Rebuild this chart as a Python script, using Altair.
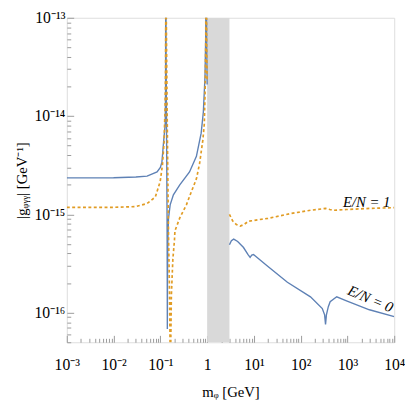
import altair as alt
import pandas as pd

# ---------------- data ----------------
# E/N = 0 (blue), below the gray band
blue_low_x = [0.001, 0.003, 0.01, 0.03, 0.052, 0.085, 0.1, 0.108, 0.117, 0.127, 0.1295, 0.1308,
              0.1312, 0.1325, 0.136, 0.139, 0.1405, 0.141, 0.1418, 0.144, 0.149, 0.162, 0.19,
              0.26, 0.42, 0.59, 0.745, 0.83, 0.9, 0.935, 0.948,
              0.952, 0.965, 0.98, 1.0]
blue_low_y = [2.35e-15, 2.35e-15, 2.36e-15, 2.4e-15, 2.45e-15, 2.7e-15, 3.0e-15, 3.4e-15, 5.4e-15, 8.3e-15, 2.0e-14, 1e-11,
              1e-11, 5e-14, 6e-15, 1e-15, 2e-16, 6.8e-17, 2e-16, 5e-16, 9e-16, 1.25e-15, 1.58e-15,
              2.0e-15, 2.7e-15, 3.9e-15, 6.7e-15, 1.1e-14, 2.5e-14, 7e-14, 1e-11,
              1e-11, 2e-13, 5e-14, 2.1e-14]
# E/N = 0 (blue), above the gray band
blue_high_x = [3.0, 3.3, 3.7, 4.5, 6.0, 7.5, 8.3, 9.0, 9.8, 20, 52, 162, 290, 325, 340, 355, 390,
               427, 590, 955, 2950, 10000]
blue_high_y = [4.9e-16, 5.4e-16, 5.6e-16, 5.3e-16, 4.6e-16, 3.9e-16, 3.65e-16, 3.85e-16, 3.9e-16,
               2.95e-16, 2.04e-16, 1.45e-16, 1.1e-16, 9.5e-17, 7.6e-17, 9.5e-17, 1.15e-16,
               1.29e-16, 1.45e-16, 1.32e-16, 1.07e-16, 9.1e-17]

# E/N = 1 (orange), below the gray band
orange_low_x = [0.001, 0.003, 0.01, 0.03, 0.052, 0.078, 0.099, 0.111, 0.12, 0.126, 0.129, 0.1303, 0.1308,
                0.1312, 0.134, 0.14, 0.146, 0.15, 0.156, 0.162, 0.166, 0.172, 0.185, 0.2, 0.205,
                0.26, 0.36, 0.46, 0.59, 0.69, 0.81, 0.87, 0.91, 0.935, 0.948,
                0.952, 0.965, 0.98, 1.0]
orange_low_y = [1.18e-15, 1.18e-15, 1.18e-15, 1.2e-15, 1.29e-15, 1.5e-15, 2.15e-15, 3.2e-15, 5.4e-15, 1.2e-14, 3e-14, 1e-13, 1e-11,
                1e-11, 1e-13, 1e-14, 1.5e-15, 5.4e-16, 2e-16, 4e-17, 4e-17, 1.5e-16, 3.5e-16, 5.4e-16, 6.8e-16,
                9.2e-16, 1.25e-15, 1.7e-15, 2.3e-15, 3.3e-15, 5.7e-15, 8.3e-15, 2e-14, 6e-14, 1e-11,
                1e-11, 2e-13, 5e-14, 2.3e-14]
# E/N = 1 (orange), above the gray band
orange_high_x = [3.0, 3.5, 4.2, 5.1, 6.2, 7.6, 12, 20, 62, 162, 340, 420, 500, 955, 3000, 10000]
orange_high_y = [1.0e-15, 8.6e-16, 7.9e-16, 7.6e-16, 7.9e-16, 8.5e-16, 8.8e-16, 9.1e-16, 1.02e-15, 1.1e-15,
                 1.15e-15, 1.12e-15, 1.1e-15, 1.12e-15, 1.15e-15, 1.17e-15]

# excluded mass window (gray band)
band_lo = [1.0]
band_hi = [3.0]

# curve labels
label_text = ["E/N = 1", "E/N = 0"]
label_x = [8300, 8300]
label_y = [1.2e-15, 1.0e-16]
label_angle = [0, 23]

# axes
x_major = [1e-3, 1e-2, 1e-1, 1, 10, 100, 1000, 10000]
x_major_labels = ["10⁻³", "10⁻²", "10⁻¹", "1", "10¹", "10²", "10³", "10⁴"]
y_major = [1e-16, 1e-15, 1e-14, 1e-13]
y_major_labels = ["10⁻¹⁶", "10⁻¹⁵", "10⁻¹⁴", "10⁻¹³"]

# ---------------- build tables ----------------
def frame(xs, ys, seg):
    return pd.DataFrame({"x": xs, "y": ys, "seg": seg})

blue_df = pd.concat([frame(blue_low_x, blue_low_y, "a"), frame(blue_high_x, blue_high_y, "b")])
orange_df = pd.concat([frame(orange_low_x, orange_low_y, "a"), frame(orange_high_x, orange_high_y, "b")])
band_df = pd.DataFrame({"lo": band_lo, "hi": band_hi})
lab_df = pd.DataFrame({"t": label_text, "x": label_x, "y": label_y, "a": label_angle})

x_minor = [m * d for d in [1e-3, 1e-2, 1e-1, 1, 10, 100, 1000] for m in range(1, 10)] + [1e4]
y_minor = [m * 1e-17 for m in range(5, 10)] + [m * d for d in [1e-16, 1e-15, 1e-14] for m in range(1, 10)] + [1e-13]

W = 334
H = 331
FONT = "Liberation Serif, Times New Roman, serif"
BLUE = "#5e81b5"
ORANGE = "#e19c24"
GRID = "#9a9a9a"

xscale = alt.Scale(type="log", domain=[1e-3, 1e4], nice=False)
yscale = alt.Scale(type="log", domain=[5e-17, 1e-13], nice=False)

xl = "[" + ",".join("'%s'" % s for s in x_major_labels) + "]"
yl = "[" + ",".join("'%s'" % s for s in y_major_labels) + "]"
x_label_expr = xl + "[round(log(datum.value)/LN10) + 3]"
y_label_expr = yl + "[round(log(datum.value)/LN10) + 16]"

major_test = "abs(log(datum.value)/LN10 - round(log(datum.value)/LN10)) < 0.001"
tick_size = {"condition": {"test": major_test, "value": 7}, "value": 4}

x_label_axis = alt.Axis(values=x_major, labelExpr=x_label_expr, ticks=False, tickSize=0, domain=False,
                        grid=False, labelFont=FONT, labelFontSize=16, labelColor="black", labelPadding=15,
                        title="mᵩ [GeV]", titleFont=FONT, titleFontSize=15, titleFontWeight="normal",
                        titleColor="black", titlePadding=12, labelFlush=False, labelOverlap=False)
y_label_axis = alt.Axis(values=y_major, labelExpr=y_label_expr, ticks=False, tickSize=0, domain=False,
                        grid=False, labelFont=FONT, labelFontSize=16, labelColor="black", labelPadding=2,
                        title="|gᵩᵧᵧ| [GeV⁻¹]", titleFont=FONT, titleFontSize=15, titleFontWeight="normal",
                        titleColor="black", titlePadding=5, labelFlush=False, labelOverlap=False)
x_tick_axis = alt.Axis(orient="top", offset=-H, values=x_minor, labels=False, domain=False, grid=False,
                       ticks=True, tickColor=GRID, tickSize=tick_size, title=None)
y_tick_axis = alt.Axis(orient="right", offset=-W, values=y_minor, labels=False, domain=False, grid=False,
                       ticks=True, tickColor=GRID, tickSize=tick_size, title=None)

band = alt.Chart(band_df).mark_rect(color="#d9d9d9", clip=True).encode(
    x=alt.X("lo:Q", scale=xscale, axis=None),
    x2="hi:Q",
)

blue = alt.Chart(blue_df).mark_line(color=BLUE, strokeWidth=1.4, clip=True).encode(
    x=alt.X("x:Q", scale=xscale, axis=x_label_axis),
    y=alt.Y("y:Q", scale=yscale, axis=y_label_axis),
    detail="seg:N",
)

orange = alt.Chart(orange_df).mark_line(color=ORANGE, strokeWidth=1.7, strokeDash=[3, 2.5], clip=True).encode(
    x=alt.X("x:Q", scale=xscale, axis=x_tick_axis),
    y=alt.Y("y:Q", scale=yscale, axis=y_tick_axis),
    detail="seg:N",
)

labels = alt.Chart(lab_df).mark_text(font=FONT, fontSize=15, fontStyle="italic", color="black",
                                     align="right", baseline="alphabetic").encode(
    x=alt.X("x:Q", scale=xscale, axis=None),
    y=alt.Y("y:Q", scale=yscale, axis=None),
    text="t:N",
    angle=alt.Angle("a:Q", scale=None),
)

chart = alt.layer(band, blue, orange, labels).resolve_axis(
    x="independent", y="independent"
).properties(
    width=W, height=H,
    autosize=alt.AutoSizeParams(type="none"),
    padding={"left": 60, "top": 6, "right": 11, "bottom": 58},
).configure_view(stroke=GRID, strokeWidth=1).configure(background="white")

chart.save("out.html", embed_options={"renderer": "svg", "actions": False})
